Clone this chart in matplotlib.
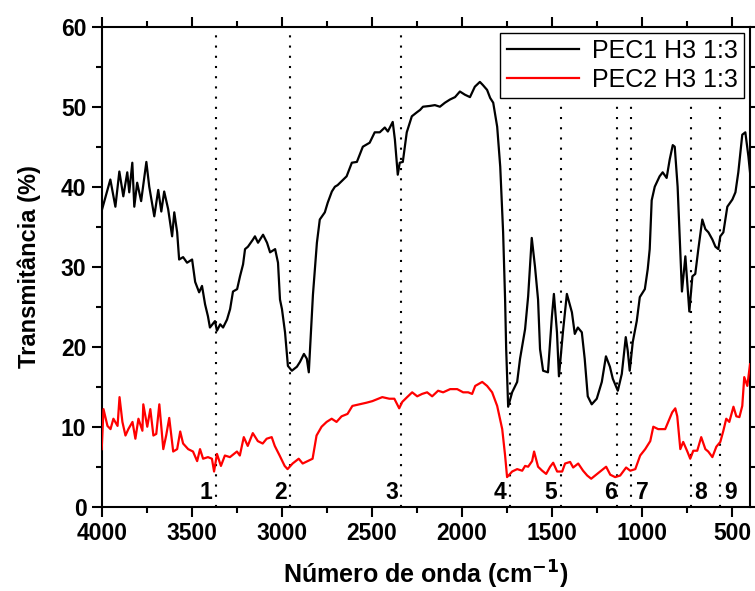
import matplotlib
matplotlib.use("Agg")
import matplotlib.pyplot as plt
from matplotlib.ticker import MultipleLocator

plt.rcParams['font.family'] = ['Liberation Sans', 'DejaVu Sans']

# PEC1 H3 1:3 (black) - wavenumber (cm-1), transmittance (%)
pec1_wn = [4000, 3952, 3924, 3902, 3880, 3858, 3847, 3830, 3819, 3803, 3781, 3752, 3736,
           3708, 3686, 3669, 3653, 3631, 3609, 3597, 3581, 3570, 3548, 3526, 3498, 3481,
           3459, 3443, 3426, 3410, 3399, 3371, 3360, 3342, 3326, 3304, 3287, 3271, 3248,
           3232, 3215, 3204, 3188, 3160, 3149, 3132, 3104, 3082, 3065, 3037, 3021, 3010,
           2999, 2982, 2966, 2944, 2916, 2899, 2877, 2861, 2850, 2838, 2827, 2805, 2789,
           2761, 2745, 2722, 2705, 2690, 2640, 2611, 2583, 2550, 2512, 2484, 2456, 2428,
           2411, 2384, 2372, 2356, 2345, 2328, 2306, 2278, 2250, 2232, 2216, 2177, 2150,
           2122, 2094, 2066, 2038, 2011, 1983, 1955, 1928, 1900, 1883, 1860, 1843, 1826,
           1804, 1787, 1771, 1760, 1754, 1743, 1721, 1693, 1677, 1649, 1632, 1612, 1594,
           1577, 1566, 1549, 1522, 1500, 1489, 1472, 1461, 1439, 1417, 1389, 1373, 1356,
           1334, 1318, 1301, 1279, 1251, 1223, 1200, 1178, 1162, 1134, 1112, 1090, 1079,
           1068, 1051, 1029, 1012, 984, 968, 957, 946, 929, 902, 885, 863, 846, 829, 818,
           802, 778, 759, 737, 720, 704, 687, 665, 648, 631, 609, 592, 576, 565, 548, 526,
           498, 481, 465, 443, 426, 409, 400]
pec1_t = [37.0, 40.9, 37.5, 41.9, 38.8, 41.8, 39.3, 43.0, 37.5, 40.5, 38.2, 43.1, 40.0,
          36.3, 39.6, 36.9, 39.4, 37.2, 33.8, 36.8, 34.3, 30.9, 31.2, 30.5, 30.9, 28.1,
          26.8, 27.6, 25.3, 23.8, 22.4, 23.2, 22.0, 22.8, 22.4, 23.4, 24.7, 26.9, 27.2,
          28.8, 30.3, 32.2, 32.5, 33.4, 33.8, 33.0, 34.0, 33.0, 31.8, 32.2, 30.5, 25.9,
          24.7, 21.8, 17.6, 17.0, 17.5, 18.1, 19.1, 18.5, 16.8, 21.8, 26.5, 33.0, 35.9,
          36.8, 38.0, 39.4, 40.0, 40.2, 41.3, 43.0, 43.1, 45.0, 45.5, 46.8, 46.8, 47.4,
          46.9, 48.1, 45.9, 41.5, 43.0, 43.1, 46.8, 48.8, 49.3, 49.6, 50.0, 50.1, 50.2,
          50.0, 50.5, 50.9, 51.2, 51.9, 51.5, 51.2, 52.5, 53.1, 52.7, 52.1, 51.1, 50.5,
          47.5, 42.5, 34.3, 25.9, 19.7, 12.5, 14.3, 15.6, 18.5, 22.2, 26.3, 33.6, 30.0,
          25.9, 19.7, 17.0, 16.8, 23.8, 26.6, 21.8, 16.3, 21.8, 26.6, 24.3, 21.6, 22.4,
          21.8, 18.5, 13.8, 12.8, 13.5, 15.6, 18.8, 17.5, 16.0, 14.5, 16.6, 21.2, 19.5,
          17.0, 20.6, 23.2, 26.2, 27.2, 29.7, 32.2, 38.3, 40.0, 41.3, 41.8, 41.1, 43.4, 45.2, 45.0,
          40.0, 26.9, 31.3, 24.4, 28.8, 29.1, 32.2, 35.9, 34.7, 34.3, 33.4, 32.5, 32.2, 33.8, 34.3, 37.5,
          38.4, 39.3, 41.8, 46.5, 46.8, 43.8, 41.8]

# PEC2 H3 1:3 (red)
pec2_wn = [4000, 3990, 3968, 3951, 3935, 3912, 3901, 3885, 3868, 3852, 3829, 3813, 3796,
           3774, 3769, 3747, 3730, 3713, 3697, 3680, 3658, 3642, 3625, 3603, 3581, 3564,
           3548, 3520, 3493, 3470, 3454, 3437, 3410, 3388, 3376, 3360, 3338, 3316, 3288,
           3249, 3233, 3211, 3189, 3161, 3133, 3106, 3084, 3056, 3039, 3012, 2984, 2968,
           2940, 2906, 2884, 2857, 2829, 2807, 2779, 2751, 2723, 2696, 2668, 2635, 2608,
           2569, 2530, 2497, 2442, 2403, 2375, 2348, 2331, 2304, 2276, 2248, 2221, 2193,
           2165, 2132, 2104, 2065, 2026, 1993, 1965, 1943, 1926, 1887, 1860, 1832, 1804,
           1776, 1760, 1749, 1721, 1693, 1665, 1649, 1632, 1610, 1599, 1577, 1554, 1532,
           1510, 1493, 1471, 1443, 1427, 1399, 1382, 1354, 1327, 1304, 1282, 1260, 1232,
           1199, 1176, 1149, 1121, 1088, 1065, 1037, 1010, 982, 954, 937, 910, 871, 854,
           832, 815, 804, 787, 771, 748, 732, 715, 693, 671, 648, 632, 609, 587, 565, 548,
           532, 515, 492, 476, 459, 443, 432, 415, 400]
pec2_t = [7.2, 12.2, 10.1, 9.7, 11.0, 10.1, 13.7, 10.6, 8.9, 9.7, 10.6, 8.5, 11.0,
          9.5, 12.8, 10.0, 12.2, 8.9, 9.1, 12.8, 7.2, 8.9, 11.1, 6.9, 7.2, 9.4,
          7.9, 7.2, 6.9, 5.7, 7.2, 6.0, 6.2, 6.0, 4.4, 6.6, 5.1, 6.4, 6.2,
          6.9, 6.4, 8.7, 7.6, 9.2, 8.2, 7.9, 8.5, 8.7, 7.6, 6.4, 5.1, 4.7,
          5.4, 6.0, 5.4, 5.7, 6.0, 8.9, 10.0, 10.6, 11.0, 10.6, 11.3, 11.6, 12.6,
          12.8, 13.0, 13.2, 13.7, 13.5, 13.5, 12.3, 13.1, 13.7, 14.3, 13.8, 14.1, 14.3,
          13.8, 14.5, 14.3, 14.7, 14.7, 14.3, 14.3, 14.1, 15.1, 15.6, 15.1, 14.3, 12.6,
          9.7, 6.4, 3.7, 4.4, 4.7, 4.5, 5.1, 5.0, 5.7, 6.9, 5.0, 4.5, 4.1,
          5.0, 5.5, 4.4, 4.4, 5.4, 5.6, 4.9, 5.4, 4.5, 3.9, 3.5, 3.9, 4.4,
          5.0, 4.0, 3.7, 3.9, 4.9, 4.5, 4.7, 6.4, 7.2, 8.2, 10.0, 9.7, 9.7, 10.6,
          11.8, 12.3, 11.3, 7.2, 8.1, 6.9, 6.0, 7.0, 7.0, 8.7, 7.2, 6.9, 6.2, 7.5, 8.1, 9.5,
          11.0, 10.6, 12.5, 11.3, 11.2, 12.6, 16.2, 15.1, 17.8]

# marked bands
band_wn = [3365, 2954, 2337, 1732, 1448, 1139, 1063, 730, 565]
band_labels = ['1', '2', '3', '4', '5', '6', '7', '8', '9']
label_wn = [3420, 3009, 2387, 1787, 1505, 1172, 1000, 676, 509]

fig = plt.figure(figsize=(7.55, 5.91), dpi=100)
ax = fig.add_axes([0.1347, 0.1426, 0.8587, 0.8122])

for w in band_wn:
    ax.axvline(w, color='black', linestyle=(0, (1, 3.9)), linewidth=1.5, zorder=1)
for w, s in zip(label_wn, band_labels):
    ax.text(w, 0.4, s, ha='center', va='bottom', fontsize=16.5, fontweight='bold')

ax.plot(pec1_wn, pec1_t, color='black', linewidth=1.6, label='PEC1 H3 1:3', zorder=3)
ax.plot(pec2_wn, pec2_t, color='red', linewidth=1.6, label='PEC2 H3 1:3', zorder=3)

ax.set_xlim(4000, 400)
ax.set_ylim(0, 60)
ax.xaxis.set_major_locator(MultipleLocator(500))
ax.xaxis.set_minor_locator(MultipleLocator(250))
ax.yaxis.set_major_locator(MultipleLocator(10))
ax.yaxis.set_minor_locator(MultipleLocator(5))
ax.tick_params(which='both', direction='out', top=True, right=True, width=1.5)
ax.tick_params(which='major', length=7, labelsize=16.5, pad=4)
ax.tick_params(which='minor', length=4)
for lab in ax.get_xticklabels() + ax.get_yticklabels():
    lab.set_fontweight('bold')
for sp in ax.spines.values():
    sp.set_linewidth(1.5)

ax.set_xlabel('Número de onda (cm$^{\\mathbf{-1}}$)', fontsize=18, fontweight='bold', labelpad=10)
ax.set_ylabel('Transmitância (%)', fontsize=17, fontweight='bold', labelpad=14)

leg = ax.legend(loc='upper right', fontsize=18, frameon=True, fancybox=False,
                edgecolor='black', framealpha=1, handlelength=2.9,
                borderaxespad=0.25, borderpad=0.25, labelspacing=0.2, handletextpad=0.5)
leg.get_frame().set_linewidth(1.0)
leg.set_zorder(5)

fig.savefig('out.png', dpi=100)
